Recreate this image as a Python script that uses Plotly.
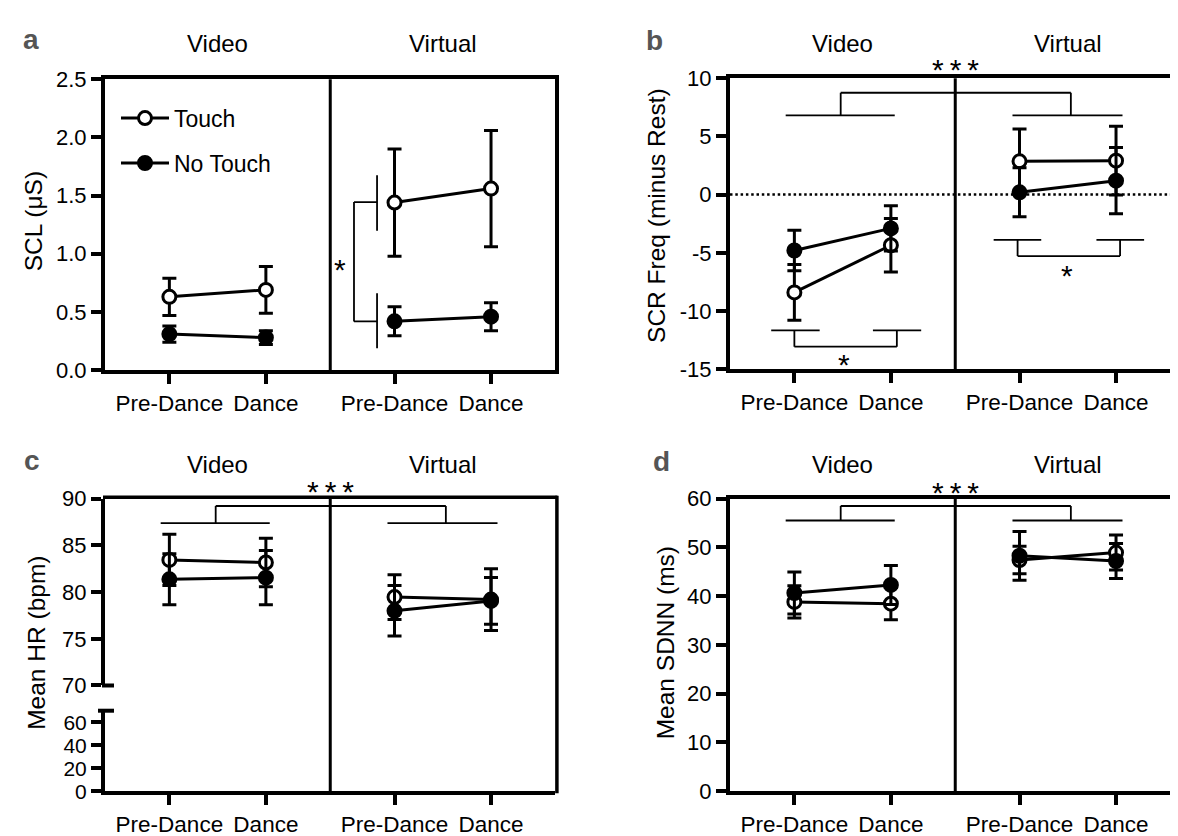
import plotly.graph_objects as go

W, H = 1178, 836
FONT = "Liberation Sans, Arial, Helvetica, sans-serif"

# ---------------- data ----------------
x_positions = [0.0, 1.0, 2.333, 3.333]          # Video Pre, Video Dance, Virtual Pre, Virtual Dance
tick_text = ["Pre-Dance", "Dance", "Pre-Dance", "Dance"]
group_names = ["Video", "Virtual"]
series_names = ["Touch", "No Touch"]

# a: SCL (uS)
scl_touch = [0.63, 0.69, 1.44, 1.56]
scl_touch_err = [0.16, 0.20, 0.46, 0.50]
scl_notouch = [0.31, 0.28, 0.42, 0.46]
scl_notouch_err = [0.07, 0.06, 0.125, 0.12]

# b: SCR Freq (minus Rest)
scr_touch = [-8.4, -4.35, 2.86, 2.92]
scr_touch_err = [2.4, 2.3, 2.78, 2.95]
scr_notouch = [-4.8, -2.9, 0.2, 1.2]
scr_notouch_err = [1.75, 1.95, 2.1, 2.85]

# c: Mean HR (bpm)
hr_touch = [83.45, 83.17, 79.47, 79.2]
hr_touch_err = [2.75, 2.6, 2.4, 3.3]
hr_notouch = [81.37, 81.55, 78.0, 79.06]
hr_notouch_err = [2.73, 2.9, 2.7, 2.5]

# d: Mean SDNN (ms)
sdnn_touch = [38.8, 38.45, 47.4, 48.93]
sdnn_touch_err = [3.3, 3.3, 2.8, 3.6]
sdnn_notouch = [40.64, 42.3, 48.27, 47.2]
sdnn_notouch_err = [4.3, 4.0, 5.0, 3.6]

scr_ticks = [-15, -10, -5, 0, 5, 10]
scr_ticktext = ["-15", "-10", "-5", "0", "5", "10"]
hr_ticks_upper = [70, 75, 80, 85, 90]
hr_ticks_lower = [0, 20, 40, 60]


# ---------------- helpers ----------------
def pxx(p):
    return p / W


def pxy(p):
    return 1 - p / H


def xdom(a, b):
    return [pxx(a), pxx(b)]


def ydom(top, bottom):
    return [pxy(bottom), pxy(top)]


fig = go.Figure()

panels = [
    ("x", "y", [scl_touch, scl_notouch], [scl_touch_err, scl_notouch_err], True),
    ("x2", "y2", [scr_touch, scr_notouch], [scr_touch_err, scr_notouch_err], False),
    ("x3", "y3", [hr_touch, hr_notouch], [hr_touch_err, hr_notouch_err], False),
    ("x4", "y4", [sdnn_touch, sdnn_notouch], [sdnn_touch_err, sdnn_notouch_err], False),
]

for xa, ya, vals, errs, leg in panels:
    for si, name in enumerate(series_names):
        for g in range(2):
            sl = slice(2 * g, 2 * g + 2)
            fig.add_trace(go.Scatter(
                x=x_positions[sl], y=vals[si][sl],
                xaxis=xa, yaxis=ya,
                mode="lines+markers",
                name=name,
                legendgroup=name,
                showlegend=(leg and g == 0),
                line=dict(color="black", width=3),
                marker=dict(symbol="circle", size=13,
                            color="white" if si == 0 else "black",
                            line=dict(color="black", width=3)),
                error_y=dict(type="data", array=errs[si][sl], visible=True,
                             color="black", thickness=3, width=7),
                cliponaxis=False,
                hoverinfo="skip",
            ))

# ---------------- axes ----------------
AX = (97, 547.4)
BX = (722, 1172.4)
tickfont = dict(size=22, color="black", family=FONT)


def xcfg(dom, anchor, mirror=True):
    return dict(domain=xdom(*dom), anchor=anchor, range=[-0.667, 4.0],
                tickmode="array", tickvals=x_positions, ticktext=tick_text,
                showline=True, linecolor="black", linewidth=4, mirror=mirror,
                ticks="outside", ticklen=10, tickwidth=4, tickcolor="black",
                tickfont=dict(size=22.5, color="black", family=FONT),
                showgrid=False, zeroline=False, fixedrange=True)


def ycfg(dom, anchor, rng, **kw):
    d = dict(domain=ydom(*dom), anchor=anchor, range=rng,
             showline=True, linecolor="black", linewidth=4, mirror=True,
             ticks="outside", ticklen=10, tickwidth=4, tickcolor="black",
             tickfont=tickfont, showgrid=False, zeroline=False, fixedrange=True)
    d.update(kw)
    return d


C_UP = (493.5, 686)
C_LOW = (712, 795)

fig.update_layout(
    xaxis=xcfg(AX, "y"),
    yaxis=ycfg((61, 361), "x", [0, 2.5], dtick=0.5, tickformat=".1f"),
    xaxis2=xcfg(BX, "y2"),
    yaxis2=ycfg((60, 360), "x2", [-15, 10], tickmode="array",
                tickvals=scr_ticks, ticktext=scr_ticktext),
    xaxis3=xcfg(AX, "y5", mirror=False),
    yaxis3=ycfg(C_UP, "x3", [70, 90], tickmode="array", tickvals=hr_ticks_upper,
                mirror=False),
    yaxis5=ycfg(C_LOW, "x3", [0, 70], tickmode="array", tickvals=hr_ticks_lower,
                mirror=False, tickfont=dict(size=21, color="black", family=FONT)),
    xaxis4=xcfg(BX, "y4"),
    yaxis4=ycfg((493.3, 795), "x4", [0, 60], dtick=10),
)

# dummy invisible trace so the lower HR axis segment exists
fig.add_trace(go.Scatter(x=[None], y=[None], xaxis="x3", yaxis="y5",
                         showlegend=False, hoverinfo="skip", mode="markers"))

# ---------------- shapes ----------------
shapes = []


def seg(xref, yref, x0, y0, x1, y1, w=1.8, dash="solid"):
    shapes.append(dict(type="line", xref=xref, yref=yref, x0=x0, y0=y0, x1=x1, y1=y1,
                       line=dict(color="black", width=w, dash=dash), layer="above"))


# group dividers
for xa, ya in [("x", "y domain"), ("x2", "y2 domain"), ("x4", "y4 domain")]:
    seg(xa, ya, 1.667, 0, 1.667, 1, w=3)
seg("x3", "paper", 1.667, pxy(795), 1.667, pxy(C_UP[0]), w=3)

# panel c frame (top/right) and axis break caps
seg("paper", "paper", pxx(AX[0] - 2), pxy(C_UP[0] - 1.5), pxx(AX[1] + 2), pxy(C_UP[0] - 1.5), w=3.5)
seg("paper", "paper", pxx(AX[1] + 1.5), pxy(797), pxx(AX[1] + 1.5), pxy(C_UP[0] - 3), w=3.5)
seg("paper", "paper", pxx(AX[0] - 3), pxy(C_UP[1]), pxx(AX[0] + 9), pxy(C_UP[1]), w=4)
seg("paper", "paper", pxx(AX[0] - 7), pxy(C_LOW[0]), pxx(AX[0] + 9), pxy(C_LOW[0]), w=4)

# zero line panel b
shapes.append(dict(type="line", xref="x2 domain", yref="y2", x0=0, x1=1, y0=0, y1=0,
                   line=dict(color="black", width=2.5, dash="2.5px,2.8px"), layer="above"))

# panel a significance bracket
seg("x", "y", 1.913, 0.419, 1.913, 1.444)
seg("x", "y", 1.913, 1.444, 2.152, 1.444)
seg("x", "y", 1.913, 0.419, 2.152, 0.419)
seg("x", "y", 2.152, 1.197, 2.152, 1.675)
seg("x", "y", 2.152, 0.189, 2.152, 0.661)


def group_bracket(xa, ya, ylow, yhigh):
    seg(xa, ya, -0.09, ylow, 1.04, ylow)
    seg(xa, ya, 2.26, ylow, 3.40, ylow)
    seg(xa, ya, 0.48, ylow, 0.48, yhigh)
    seg(xa, ya, 2.865, ylow, 2.865, yhigh)
    seg(xa, ya, 0.48, yhigh, 2.865, yhigh)


group_bracket("x2", "y2", 6.81, 8.75)
group_bracket("x3", "y3", 87.38, 89.22)
group_bracket("x4", "y4", 55.5, 58.47)

# panel b time brackets
seg("x2", "y2", -0.24, -11.67, 0.262, -11.67)
seg("x2", "y2", 0.814, -11.67, 1.314, -11.67)
seg("x2", "y2", 0.0, -11.67, 0.0, -13.06)
seg("x2", "y2", 1.062, -11.67, 1.062, -13.06)
seg("x2", "y2", 0.0, -13.06, 1.062, -13.06)

seg("x2", "y2", 2.065, -3.89, 2.558, -3.89)
seg("x2", "y2", 3.13, -3.89, 3.624, -3.89)
seg("x2", "y2", 2.313, -3.89, 2.313, -5.28)
seg("x2", "y2", 3.375, -3.89, 3.375, -5.28)
seg("x2", "y2", 2.313, -5.28, 3.375, -5.28)

# ---------------- annotations ----------------
anns = []


def ann(text, x, y, size, xref="paper", bold=False, color="black", angle=0):
    anns.append(dict(text=("<b>%s</b>" % text) if bold else text,
                     x=x, y=y, xref=xref, yref="paper",
                     xanchor="center", yanchor="middle", showarrow=False,
                     textangle=angle,
                     font=dict(size=size, color=color, family=FONT)))


# panel letters
ann("a", pxx(23), pxy(20), 28, bold=True, color="#555555")
ann("b", pxx(646), pxy(21), 28, bold=True, color="#555555")
ann("c", pxx(24), pxy(454), 28, bold=True, color="#555555")
ann("d", pxx(653), pxy(455), 28, bold=True, color="#555555")

# group titles
for (x0, x1), ytop in [(AX, 24), (BX, 24), (AX, 458), (BX, 458)]:
    mid = (x0 + x1) / 2
    ann(group_names[0], pxx((x0 + mid) / 2), pxy(ytop), 24)
    ann(group_names[1], pxx((mid + x1) / 2), pxy(ytop), 24)

# y titles
ann("SCL (μS)", pxx(25), pxy(207.5), 24.5, angle=-90)
ann("SCR Freq (minus Rest)", pxx(649), pxy(202), 24.5, angle=-90)
ann("Mean HR (bpm)", pxx(29), pxy(642), 24.5, angle=-90)
ann("Mean SDNN (ms)", pxx(657), pxy(642.5), 24.5, angle=-90)

# significance stars
STAR = 30
TRIPLE = "*\u2009*\u2009*"
ann("*", pxx(332.3), pxy(257), STAR)
ann(TRIPLE, 1.667, pxy(51), STAR, xref="x2")
ann("*", 0.51, pxy(355), STAR, xref="x2")
ann("*", 2.824, pxy(263), STAR, xref="x2")
ann(TRIPLE, 1.667, pxy(486), STAR, xref="x3")
ann(TRIPLE, 1.667, pxy(487), STAR, xref="x4")

fig.update_layout(
    width=W, height=H, autosize=False,
    margin=dict(l=0, r=0, t=0, b=0),
    paper_bgcolor="white", plot_bgcolor="white",
    font=dict(family=FONT, color="black"),
    shapes=shapes, annotations=anns,
    showlegend=True,
    legend=dict(x=pxx(108), y=pxy(79), xanchor="left", yanchor="top",
                font=dict(size=23, color="black", family=FONT),
                bgcolor="rgba(0,0,0,0)", tracegroupgap=12, itemwidth=48,
                itemclick=False, itemdoubleclick=False),
)

fig.write_html("out.html")
